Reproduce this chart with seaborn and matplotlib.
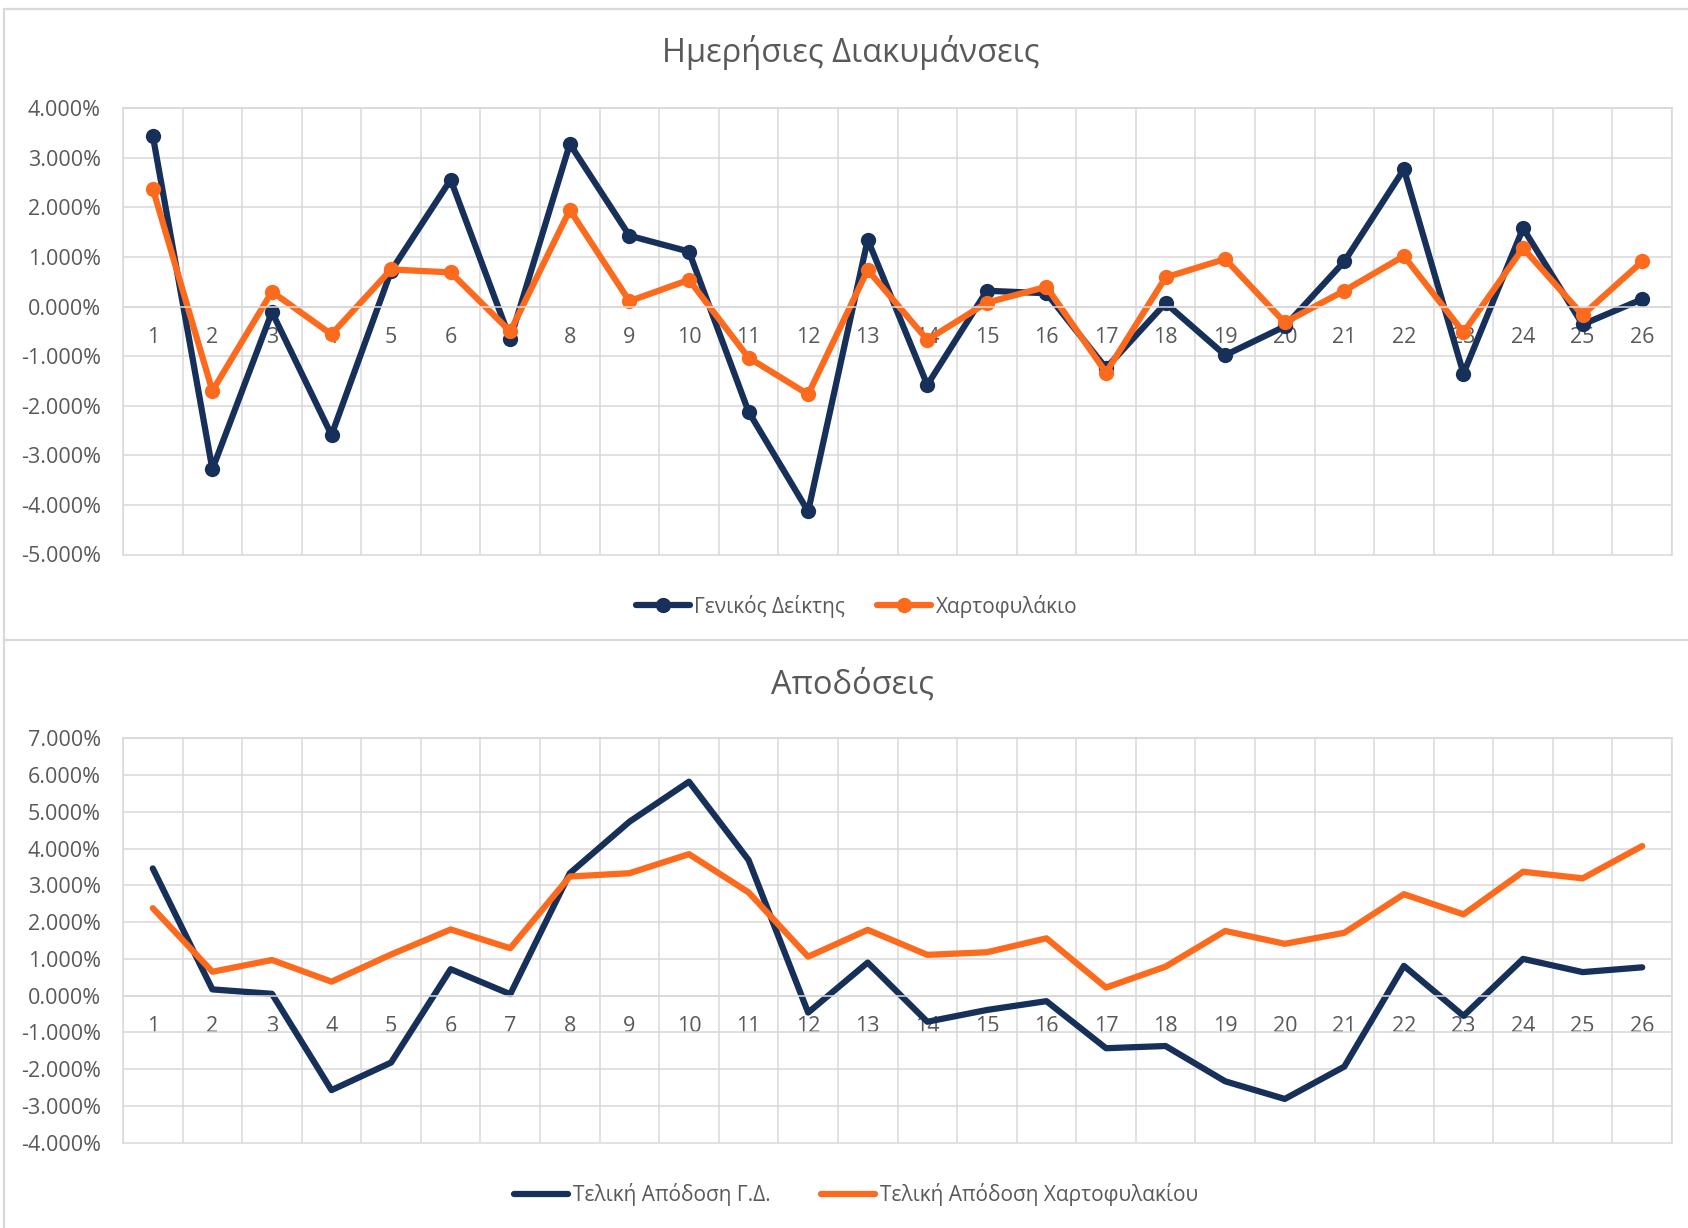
import numpy as np
import matplotlib
matplotlib.use("Agg")
import matplotlib.pyplot as plt
from matplotlib.lines import Line2D
from matplotlib.ticker import FuncFormatter
import seaborn as sns

# values (percent)
days = list(range(1, 27))
daily_index = [3.45, -3.28, -0.11, -2.59, 0.72, 2.56, -0.66, 3.28, 1.43, 1.11, -2.12, -4.13, 1.35,
               -1.58, 0.32, 0.27, -1.24, 0.07, -0.98, -0.40, 0.91, 2.77, -1.35, 1.58, -0.36, 0.15]
daily_portfolio = [2.38, -1.70, 0.30, -0.56, 0.75, 0.69, -0.50, 1.95, 0.11, 0.54, -1.03, -1.77, 0.74,
                   -0.67, 0.08, 0.40, -1.33, 0.59, 0.96, -0.32, 0.32, 1.02, -0.52, 1.18, -0.17, 0.91]
total_index = [3.46, 0.17, 0.05, -2.57, -1.82, 0.72, 0.04, 3.33, 4.73, 5.82, 3.69, -0.46, 0.90,
               -0.71, -0.39, -0.15, -1.43, -1.37, -2.33, -2.81, -1.93, 0.81, -0.55, 1.00, 0.64, 0.77]
total_portfolio = [2.38, 0.65, 0.97, 0.38, 1.12, 1.80, 1.29, 3.24, 3.33, 3.85, 2.81, 1.06, 1.79,
                   1.11, 1.18, 1.56, 0.22, 0.79, 1.76, 1.41, 1.71, 2.76, 2.21, 3.37, 3.19, 4.07]

NAVY = "#16305A"
ORANGE = "#FC6A1E"
GRID = "#D9D9D9"
TEXT = "#595959"

sns.set_theme(style="white")
plt.rcParams['font.family'] = ['Open Sans', 'DejaVu Sans']

W, H = 1688, 1228
fig = plt.figure(figsize=(W / 100, H / 100), dpi=100)

ax1 = fig.add_axes([123 / W, 1 - 554.5 / H, (1672 - 123) / W, (554.5 - 108.3) / H])
ax2 = fig.add_axes([123 / W, 1 - 1142.7 / H, (1672 - 123) / W, (1142.7 - 738.3) / H])


def style_axis(ax, ymin, ymax):
    ax.set_xlim(0.5, len(days) + 0.5)
    ax.set_ylim(ymin, ymax)
    ax.set_yticks(np.arange(ymin, ymax + 1, 1))
    ax.yaxis.set_major_formatter(FuncFormatter(lambda v, p: f"{v:.3f}%"))
    ax.set_xticks(days)
    ax.set_xticks(np.arange(0.5, len(days) + 1, 1), minor=True)
    ax.set_axisbelow(True)
    ax.grid(True, which='major', axis='y', color=GRID, lw=1.1)
    ax.grid(True, which='minor', axis='x', color=GRID, lw=1.1)
    ax.grid(False, which='major', axis='x')
    for gl in ax.get_ygridlines():
        gl.set_clip_on(False)
    for name in ['left', 'right', 'top']:
        ax.spines[name].set_color(GRID)
        ax.spines[name].set_linewidth(1.1)
    ax.spines['bottom'].set_position(('data', 0))
    ax.spines['bottom'].set_color(GRID)
    ax.spines['bottom'].set_linewidth(1.1)
    ax.tick_params(axis='x', which='both', length=0, pad=14.5, labelsize=15.5, labelcolor=TEXT)
    ax.tick_params(axis='y', which='both', length=0, pad=16, labelsize=15.5, labelcolor=TEXT)
    ax.set_xlabel("")
    ax.set_ylabel("")
    if ax.get_legend() is not None:
        ax.get_legend().remove()


line_kw = dict(lw=4.5, solid_capstyle='round', solid_joinstyle='round')

# top chart: daily changes
sns.lineplot(x=days, y=daily_index, color=NAVY, marker='o', markersize=11, markeredgewidth=0,
             label="Γενικός Δείκτης", ax=ax1, **line_kw)
sns.lineplot(x=days, y=daily_portfolio, color=ORANGE, marker='o', markersize=11, markeredgewidth=0,
             label="Χαρτοφυλάκιο", ax=ax1, **line_kw)
h1, l1 = ax1.get_legend_handles_labels()
style_axis(ax1, -5, 4)

# bottom chart: cumulative returns
sns.lineplot(x=days, y=total_index, color=NAVY, label="Τελική Απόδοση Γ.Δ.", ax=ax2, **line_kw)
sns.lineplot(x=days, y=total_portfolio, color=ORANGE, label="Τελική Απόδοση Χαρτοφυλακίου", ax=ax2, **line_kw)
h2, l2 = ax2.get_legend_handles_labels()
style_axis(ax2, -4, 7)

fig.text(851 / W, 1 - 62 / H, "Ημερήσιες Διακυμάνσεις", ha='center', va='baseline', fontsize=23.5, color=TEXT)
fig.text(852 / W, 1 - 694 / H, "Αποδόσεις", ha='center', va='baseline', fontsize=23.5, color=TEXT)

fig.legend(h1, l1, loc='center', bbox_to_anchor=(856.5 / W, 1 - 606 / H), ncol=2, frameon=False,
           handlelength=2.6, handletextpad=0.2, columnspacing=1.55, fontsize=15, labelcolor=TEXT)
fig.legend(h2, l2, loc='center', bbox_to_anchor=(856 / W, 1 - 1195 / H), ncol=2, frameon=False,
           handlelength=2.6, handletextpad=0.2, columnspacing=2.45, fontsize=15, labelcolor=TEXT)

# chart frames
fig.add_artist(Line2D([4 / W, 1], [1 - 9 / H] * 2, color=GRID, lw=1.6, transform=fig.transFigure))
fig.add_artist(Line2D([4 / W, 1], [1 - 639.5 / H] * 2, color=GRID, lw=1.6, transform=fig.transFigure))
fig.add_artist(Line2D([4 / W] * 2, [0, 1 - 9 / H], color=GRID, lw=1.6, transform=fig.transFigure))

fig.savefig("out.png", dpi=100)
